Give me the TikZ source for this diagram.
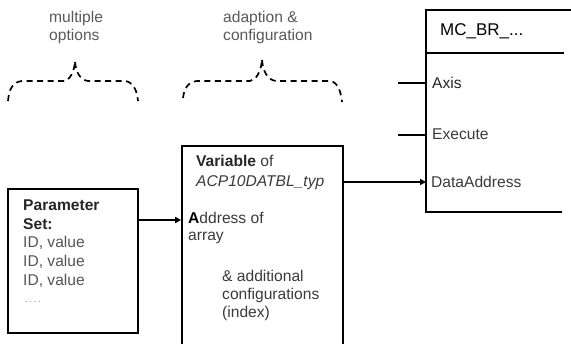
\documentclass[tikz,border=0pt]{standalone}
\usepackage{fontspec}
\setmainfont{Liberation Sans}
\definecolor{txt}{HTML}{3A3A3A}
\definecolor{txtl}{HTML}{555555}
\newcommand{\fsz}{\fontsize{15.6}{18}\selectfont}
\tikzset{
  lbl/.style={anchor=base west, inner sep=0pt, text=txt, font=\fsz},
  lbll/.style={lbl, text=txtl},
  boxline/.style={draw=black, line width=1.6pt},
  brace/.style={draw=black, line width=1.7pt, dash pattern=on 6pt off 4.5pt},
  conn/.style={draw=black, line width=1.6pt},
  arr/.style={conn, -{Triangle[length=6pt,width=6pt]}}
}
\usetikzlibrary{arrows.meta}
\begin{document}
\begin{tikzpicture}[x=1pt,y=-1pt]
\useasboundingbox (0,0) rectangle (571,344);
\clip (0,0) rectangle (571,344);

% header labels
\node[lbl, text=black!65] (h1a) at (49,23) {multiple};
\node[lbl, text=black!65] (h1b) at (49,41) {options};
\node[lbl, text=black!65] (h2a) at (223,23) {adaption \&};
\node[lbl, text=black!65] (h2b) at (223,41) {configuration};

% braces
\path[brace] (8,101) .. controls (9,90) and (12,82) .. (22,81) -- (64,81)
  .. controls (70,80) and (74,72) .. (75,62);
\path[brace] (75,62) .. controls (76,72) and (80,80) .. (88,81) -- (125,81)
  .. controls (133,82) and (137,90) .. (138,101);
\path[brace] (183,98) .. controls (184,90) and (187,82) .. (197,81) -- (250,81)
  .. controls (256,80) and (261,72) .. (262,60);
\path[brace] (262,60) .. controls (263,72) and (268,80) .. (276,81) -- (330,81)
  .. controls (338,82) and (341,92) .. (342,102);

% parameter set box
\node[boxline, minimum width=130pt, minimum height=144pt, inner sep=0pt] (param) at (73,261) {};
\node[lbl, font=\fsz\bfseries, text=black!85] (p1) at (23,211) {Parameter};
\node[lbl, font=\fsz\bfseries, text=black!85] (p2) at (23,230) {Set:};
\node[lbll] (p3) at (23,248) {ID, value};
\node[lbll] (p4) at (23,267) {ID, value};
\node[lbll] (p5) at (23,286) {ID, value};
\node[lbll, font=\fontsize{10}{12}\selectfont, text=black!45] (p6) at (23,303) {\,.\,.\,.\,.};

% variable box (open at bottom, extends below picture)
\node[boxline, minimum width=161pt, minimum height=220pt, inner sep=0pt] (var) at (262.5,256) {};
\node[lbl] (v1) at (196,167) {\textbf{\color{black!85}Variable} of};
\node[lbl, font=\fsz\itshape] (v2) at (196,187) {ACP10DATBL\_typ};
\node[lbl] (v3) at (188,224) {\textbf{\color{black}A}ddress of};
\node[lbl] (v4) at (188,241) {array};
\node[lbl] (v5) at (222,282) {\& additional};
\node[lbl] (v6) at (222,300) {configurations};
\node[lbl] (v7) at (222,318) {(index)};

% MC_BR box
\coordinate (mtl) at (426,10);
\coordinate (mtr) at (575,10);
\coordinate (mhl) at (426,53);
\coordinate (mhr) at (564,53);
\coordinate (mbl) at (426,212);
\coordinate (mbr) at (562,212);
\draw[boxline] (mtr) -- (mtl) -- (mbl) -- (mbr);
\draw[boxline] (mhl) -- (mhr);
\node[lbl, font=\fontsize{17}{18}\selectfont, text=black] (mc) at (440,36) {MC\_BR\_...};
\node[lbl, text=black!85] (axis) at (432,89) {Axis};
\node[lbl] (exec) at (432,140) {Execute};
\node[lbl] (data) at (431,188) {DataAddress};

\coordinate (axin) at (398,83);
\coordinate (exin) at (398,135);
\draw[conn] (axin) -- (axin -| mtl);
\draw[conn] (exin) -- (exin -| mtl);

% connectors
\draw[arr] (var.east |- 0,182) -- (mtl |- 0,182);
\draw[arr] (param.east |- 0,220) -- (var.west |- 0,220);
\end{tikzpicture}
\end{document}
